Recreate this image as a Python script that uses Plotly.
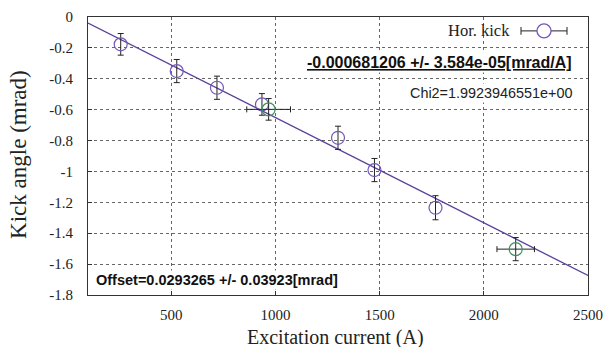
import plotly.graph_objects as go

# Data
current = [257, 526, 719, 935, 1300, 1475, 1768]
kick = [-0.177, -0.350, -0.458, -0.566, -0.782, -0.991, -1.235]
kick_err = [0.070, 0.075, 0.075, 0.070, 0.075, 0.075, 0.078]

green_current = [967, 2153]
green_kick = [-0.598, -1.503]
green_kick_err = [0.070, 0.075]
green_current_err = [105, 90]

slope = -0.000681206
offset = 0.0293265
fit_x = [100, 2500]
fit_y = [offset + slope * x for x in fit_x]

x_ticks = [500, 1000, 1500, 2000, 2500]
y_ticks = [0, -0.2, -0.4, -0.6, -0.8, -1, -1.2, -1.4, -1.6, -1.8]

PURPLE = "#7457b8"
LINE = "#5a3f9c"
GREEN = "#3f8f5f"
SERIF = "Liberation Serif"
SANS = "Liberation Sans"

fig = go.Figure()
fig.add_trace(go.Scatter(x=fit_x, y=fit_y, mode="lines",
                         line=dict(color=LINE, width=1.3), showlegend=False))
fig.add_trace(go.Scatter(
    x=current, y=kick, mode="markers",
    marker=dict(symbol="circle-open", size=13, color=PURPLE, line=dict(width=1.2)),
    error_y=dict(type="data", array=kick_err, color="#222", thickness=1, width=3),
    showlegend=False))
fig.add_trace(go.Scatter(
    x=green_current, y=green_kick, mode="markers",
    marker=dict(symbol="circle-open", size=13, color=GREEN, line=dict(width=1.2)),
    error_y=dict(type="data", array=green_kick_err, color="#222", thickness=1, width=3),
    error_x=dict(type="data", array=green_current_err, color="#222", thickness=1, width=3),
    showlegend=False))

fig.update_layout(
    width=607, height=347,
    margin=dict(l=88, r=19, t=17, b=52),
    paper_bgcolor="white", plot_bgcolor="white",
    font=dict(family=SERIF, size=15, color="#222"),
    showlegend=False,
)
axis_common = dict(showgrid=True, gridcolor="#666", griddash="dot", gridwidth=1,
                   showline=True, linecolor="#333", linewidth=1, mirror=True,
                   ticks="inside", ticklen=4, tickcolor="#333", zeroline=False,
                   automargin=False, tickfont=dict(family=SERIF, size=15))
fig.update_xaxes(range=[100, 2500], tickvals=x_ticks, ticktext=[str(v) for v in x_ticks],
                 ticklabelstandoff=6, **axis_common)
fig.update_yaxes(range=[-1.8, 0], tickvals=y_ticks, ticktext=[f"{v:g}" for v in y_ticks],
                 ticklabelstandoff=11, **axis_common)

# axis titles
fig.add_annotation(xref="paper", yref="paper", x=0.495, y=-0.153, xanchor="center", yanchor="middle",
                   text="Excitation current (A)", showarrow=False,
                   font=dict(family=SERIF, size=20, color="#222"))
fig.add_annotation(xref="paper", yref="paper", x=-0.138, y=0.504, xanchor="center", yanchor="middle",
                   text="Kick angle (mrad)", showarrow=False, textangle=-90,
                   font=dict(family=SERIF, size=23, color="#222"))

# legend (drawn manually)
ly = 0.95
fig.add_annotation(xref="paper", yref="paper", x=0.848, y=ly, xanchor="right", yanchor="middle",
                   text="Hor. kick", showarrow=False, font=dict(family=SERIF, size=16.5, color="#222"))
fig.add_shape(type="line", xref="paper", yref="paper", x0=0.866, x1=0.958, y0=ly, y1=ly,
              line=dict(color="#222", width=1))
for xe in (0.866, 0.958):
    fig.add_shape(type="line", xref="paper", yref="paper", x0=xe, x1=xe, y0=ly - 0.014, y1=ly + 0.014,
                  line=dict(color="#222", width=1))
fig.add_shape(type="circle", xref="paper", yref="paper", x0=0.898, x1=0.926, y0=ly - 0.025, y1=ly + 0.025,
              line=dict(color=PURPLE, width=1.3), fillcolor="white")

fig.add_annotation(xref="paper", yref="paper", x=0.972, y=0.835, xanchor="right", yanchor="middle",
                   text="<b><u>-0.000681206 +/- 3.584e-05[mrad/A]</u></b>", showarrow=False,
                   bgcolor="white", font=dict(family=SANS, size=16, color="#111"))
fig.add_annotation(xref="paper", yref="paper", x=0.972, y=0.727, xanchor="right", yanchor="middle",
                   text="Chi2=1.9923946551e+00", showarrow=False,
                   bgcolor="white", font=dict(family=SANS, size=14.4, color="#222"))
fig.add_annotation(xref="paper", yref="paper", x=0.012, y=0.054, xanchor="left", yanchor="middle",
                   text="<b>Offset=0.0293265 +/- 0.03923[mrad]</b>", showarrow=False,
                   bgcolor="white", font=dict(family=SANS, size=14.5, color="#111"))

fig.write_html("out.html", config={"displayModeBar": False},
               post_script="document.body.style.margin='0px';")
